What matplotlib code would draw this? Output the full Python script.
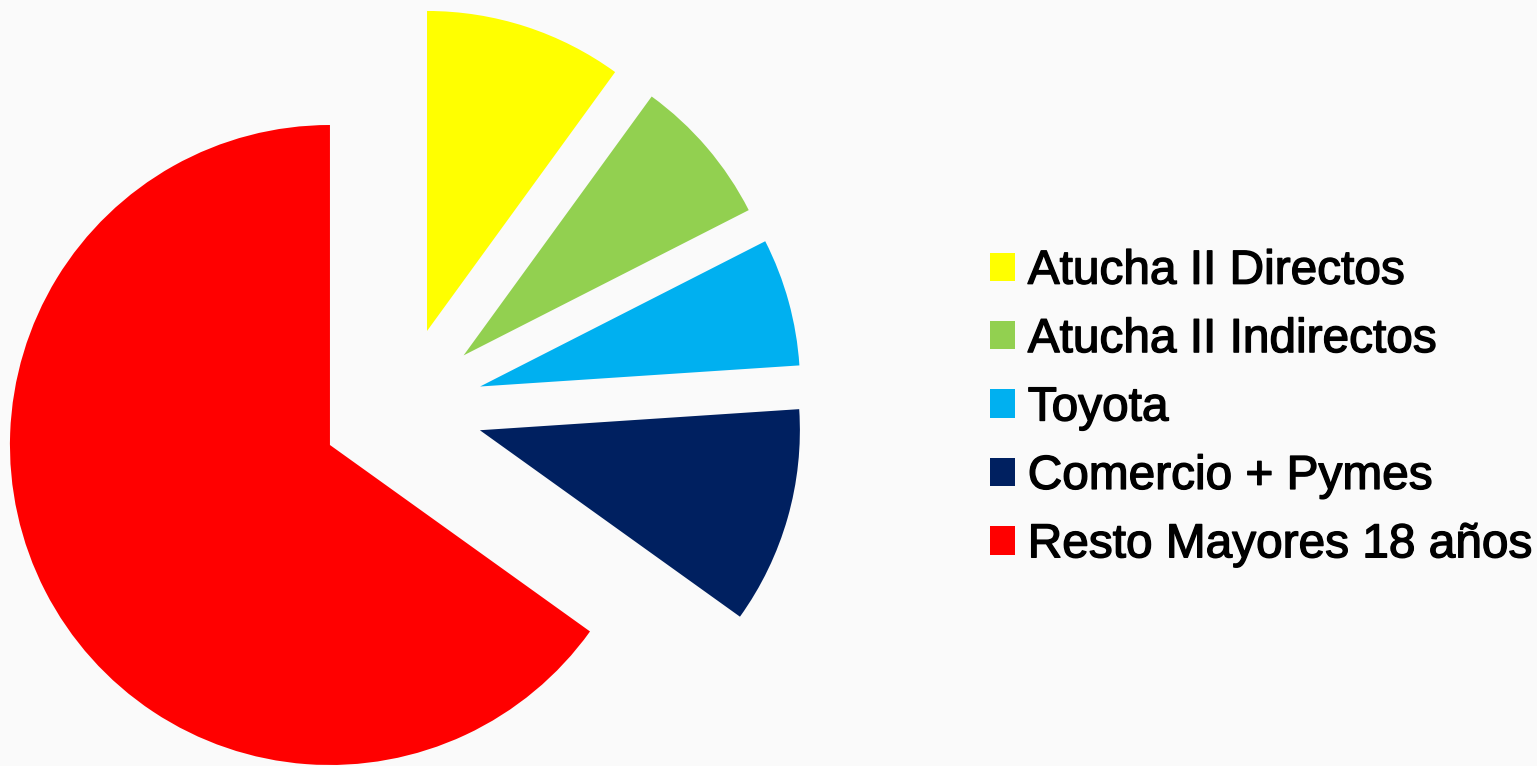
import matplotlib
matplotlib.use("Agg")
import matplotlib.pyplot as plt
import matplotlib.patheffects as pe

categories = ["Atucha II Directos", "Atucha II Indirectos", "Toyota",
              "Comercio + Pymes", "Resto Mayores 18 años"]
values = [10.0, 7.5, 6.45, 10.95, 65.1]
colors = ["#FFFF00", "#92D050", "#00B0F0", "#002060", "#FF0000"]

plt.rcParams['font.family'] = ['Liberation Sans', 'DejaVu Sans']

W, H = 1537, 766
fig = plt.figure(figsize=(W / 100, H / 100), dpi=100, facecolor="#fafafa")
ax = fig.add_axes([0, 0, 1, 1])
ax.set_facecolor("#fafafa")

wedges, _ = ax.pie(values, colors=colors, startangle=90, counterclock=False,
                   explode=[81] * 5, radius=320, center=(402, H - 408),
                   frame=True, wedgeprops=dict(linewidth=0))
ax.set_xlim(0, W)
ax.set_ylim(0, H)
ax.set_aspect("auto")
ax.axis("off")

fs = 34.4
leg = ax.legend(wedges, categories, loc="center left",
                bbox_to_anchor=(990 / W, 1 - 408 / H),
                frameon=False, fontsize=fs, handlelength=0.52, handleheight=0.54,
                handletextpad=0.27, labelspacing=0.49, borderaxespad=0,
                borderpad=0)
for t in leg.get_texts():
    t.set_path_effects([pe.withStroke(linewidth=1.0, foreground="black")])

fig.savefig("out.png", dpi=100, facecolor=fig.get_facecolor())
